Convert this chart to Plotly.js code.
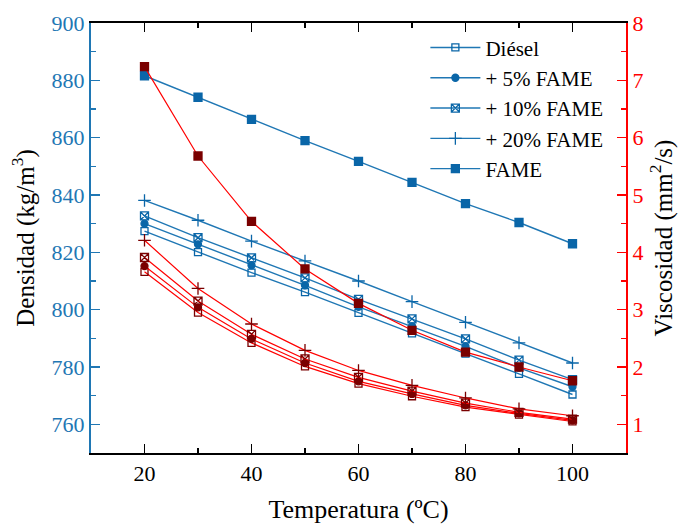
<!DOCTYPE html>
<html>
<head>
<meta charset="utf-8">
<script src="https://cdn.plot.ly/plotly-3.0.1.min.js"></script>
<style>
  html, body { margin: 0; padding: 0; background: #fff; }
  #chart { width: 686px; height: 527px; }
  /* serif face for every label of the figure */
  #chart svg text { font-family: 'Liberation Serif', 'Times New Roman', serif !important; }
</style>
</head>
<body>
<div id="chart"></div>
<script>
// Temperature (ºC)
const temperatura = [20, 30, 40, 50, 60, 70, 80, 90, 100];

// Density (kg/m3) – left axis
const densDiesel = [827.4, 820.1, 812.9, 806.1, 798.9, 791.7, 784.7, 777.6, 770.4];
const dens5      = [830.0, 822.8, 815.5, 808.5, 801.0, 794.2, 787.2, 779.7, 773.1];
const dens10     = [832.7, 825.1, 818.1, 811.1, 803.6, 796.8, 789.8, 782.4, 775.6];
const dens20     = [838.1, 831.2, 823.9, 817.0, 810.0, 802.8, 795.6, 788.4, 781.4];
const densFAME   = [881.6, 874.1, 866.4, 859.0, 851.7, 844.4, 837.0, 830.4, 823.0];

// Kinematic viscosity (mm2/s) – right axis
const viscDiesel = [3.66, 2.95, 2.42, 2.01, 1.71, 1.49, 1.30, 1.17, 1.05];
const visc5      = [3.76, 3.04, 2.49, 2.07, 1.75, 1.53, 1.33, 1.19, 1.07];
const visc10     = [3.91, 3.15, 2.57, 2.14, 1.82, 1.58, 1.37, 1.21, 1.09];
const visc20     = [4.21, 3.37, 2.75, 2.29, 1.94, 1.68, 1.46, 1.27, 1.15];
const viscFAME   = [7.24, 5.68, 4.54, 3.71, 3.11, 2.64, 2.26, 2.00, 1.76];

const seriesNames = ['Diésel', '+ 5% FAME', '+ 10% FAME', '+ 20% FAME', 'FAME'];

const BLUE = '#1f77b4';
const BLUE_MK = '#0a66a8';
const RED = '#ff0000';
const DARK_RED = '#7a0000';
const FONT = 'Liberation Serif';

const markerStyles = [
  { symbol: 'square-open', size: 7 },
  { symbol: 'circle', size: 7 },
  { symbol: 'square-x-open', size: 8 },
  { symbol: 'cross-thin-open', size: 9 },
  { symbol: 'square', size: 8 }
];

const densSeries = [densDiesel, dens5, dens10, dens20, densFAME];
const viscSeries = [viscDiesel, visc5, visc10, visc20, viscFAME];

const traces = [];

// viscosity curves (red, right axis) – drawn first so the blue curves stay on top
viscSeries.forEach((ys, i) => {
  traces.push({
    x: temperatura, y: ys, yaxis: 'y2', type: 'scatter', mode: 'lines+markers',
    showlegend: false, name: seriesNames[i],
    line: { color: RED, width: 1.2 },
    marker: {
      symbol: markerStyles[i].symbol, size: markerStyles[i].size,
      color: DARK_RED, line: { color: DARK_RED, width: 1.3 }
    }
  });
});

// density curves (blue, left axis)
densSeries.forEach((ys, i) => {
  traces.push({
    x: temperatura, y: ys, yaxis: 'y', type: 'scatter', mode: 'lines+markers',
    name: seriesNames[i],
    line: { color: BLUE, width: 1.4 },
    marker: {
      symbol: markerStyles[i].symbol, size: markerStyles[i].size,
      color: BLUE_MK, line: { color: BLUE_MK, width: 1.3 }
    }
  });
});

const layout = {
  width: 686, height: 527,
  margin: { l: 91, r: 60, t: 23, b: 74, pad: 0 },
  paper_bgcolor: '#fff', plot_bgcolor: '#fff',
  font: { family: FONT, size: 22, color: '#000' },
  showlegend: true,
  legend: {
    x: 0.625, y: 0.99, xanchor: 'left', yanchor: 'top',
    bgcolor: 'rgba(0,0,0,0)', borderwidth: 0,
    font: { family: FONT, size: 21, color: '#000' },
    tracegroupgap: 0, itemwidth: 50
  },
  xaxis: {
    range: [10, 110], dtick: 20, tick0: 0,
    showgrid: false, zeroline: false,
    showline: true, linecolor: '#000', linewidth: 2, mirror: 'ticks',
    ticks: 'inside', ticklen: 9, tickwidth: 1.5, tickcolor: '#000',
    minor: { dtick: 10, tick0: 0, ticks: 'inside', ticklen: 5, tickwidth: 1.5, tickcolor: '#000', showgrid: false },
    tickfont: { family: FONT, size: 22, color: '#000' },
    title: { text: 'Temperatura (ºC)', font: { family: FONT, size: 26, color: '#000' }, standoff: 14 }
  },
  yaxis: {
    range: [750, 900], dtick: 20, tick0: 0,
    showgrid: false, zeroline: false,
    showline: true, linecolor: BLUE, linewidth: 2,
    ticks: 'inside', ticklen: 9, tickwidth: 1.5, tickcolor: BLUE,
    minor: { dtick: 10, tick0: 0, ticks: 'inside', ticklen: 5, tickwidth: 1.5, tickcolor: BLUE, showgrid: false },
    tickfont: { family: FONT, size: 22, color: BLUE },
    title: { text: 'Densidad (kg/m<sup>3</sup>)', font: { family: FONT, size: 25, color: '#000' }, standoff: 10 }
  },
  yaxis2: {
    overlaying: 'y', side: 'right',
    range: [0.5, 8], dtick: 1, tick0: 0,
    showgrid: false, zeroline: false,
    showline: true, linecolor: RED, linewidth: 2,
    ticks: 'inside', ticklen: 9, tickwidth: 1.5, tickcolor: RED,
    minor: { dtick: 0.5, tick0: 0, ticks: 'inside', ticklen: 5, tickwidth: 1.5, tickcolor: RED, showgrid: false },
    tickfont: { family: FONT, size: 22, color: RED },
    title: { text: 'Viscosidad (mm<sup>2</sup>/s)', font: { family: FONT, size: 25, color: '#000' }, standoff: 12 }
  }
};

Plotly.newPlot('chart', traces, layout, { displayModeBar: false, staticPlot: true });
</script>
</body>
</html>
